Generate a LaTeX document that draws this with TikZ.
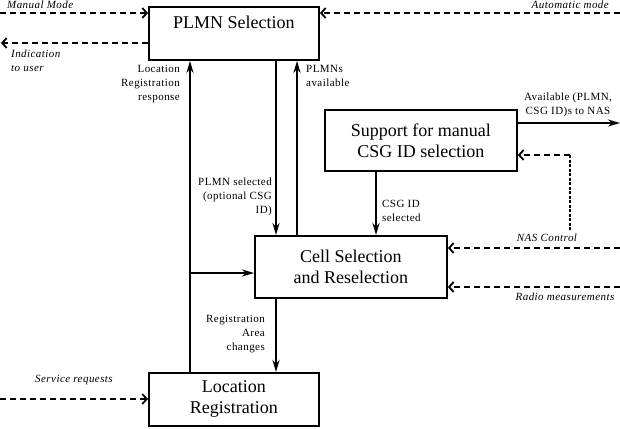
\documentclass[tikz,border=0pt]{standalone}
\usepackage{fontspec}
\setmainfont{Liberation Serif}
\usepackage{tikz}
\usetikzlibrary{arrows.meta}

\begin{document}
\begin{tikzpicture}[x=1pt, y=-1pt,
            box/.style={draw, rectangle, line width=1.9pt, fill=white, inner sep=0pt, align=center, font=\fontsize{18}{21}\selectfont},
            arrow/.style={line width=2.2pt, -{Stealth[length=12pt, width=7pt]}},
            dasharrow/.style={line width=1.8pt, dash pattern=on 6pt off 4pt, -{Straight Barb[length=4.5pt, width=10pt]}},
            dashline/.style={line width=1.3pt, dash pattern=on 3pt off 1.5pt},
            note/.style={font=\fontsize{11}{14}\selectfont\addfontfeatures{LetterSpace=4}, inner sep=0pt},
            inote/.style={font=\itshape\fontsize{11}{14}\selectfont\addfontfeatures{LetterSpace=4}, inner sep=0pt}]
            \useasboundingbox (0,0) rectangle (620,428);

            % Nodes
            \node (plmn) [box, anchor=north west, minimum width=170pt, text height=22pt, text depth=31pt] at (148,6) {PLMN Selection};
            \node (support) [box, anchor=north west, minimum width=192pt, minimum height=61pt] at (324,109) {Support for manual\\CSG ID selection};
            \node (cell) [box, anchor=north west, minimum width=192pt, minimum height=62pt] at (254,235) {Cell Selection\\and Reselection};
            \node (locreg) [box, anchor=north west, minimum width=170pt, minimum height=53pt] at (148,372) {Location\\Registration};

            % Loose ends
            \coordinate (manual) at (0,13);
            \coordinate (auto) at (620,13);
            \coordinate (user) at (1,43);
            \coordinate (tonas) at (620,123);
            \coordinate (nas) at (570,230);
            \coordinate (nasturn) at (570,155);
            \coordinate (nasin) at (620,248);
            \coordinate (radio) at (620,287);
            \coordinate (service) at (0,399);
            \coordinate (branch) at (190,273);

            % Arrows
            \draw [dasharrow] (manual) -- (manual -| plmn.west);
            \draw [dasharrow] (auto) -- (auto -| plmn.east);
            \draw [dasharrow] (user -| plmn.west) -- (user);
            \draw [arrow] (branch |- locreg.north) -- (branch |- plmn.south);
            \draw [arrow] (branch) -- (branch -| cell.west);
            \draw [arrow] ([xshift=128pt]plmn.south west) -- ([xshift=22pt]cell.north west);
            \draw [arrow] ([xshift=43pt]cell.north west) -- ([xshift=149pt]plmn.south west);
            \draw [arrow] ([xshift=52pt]support.south west) -- ([xshift=122pt]cell.north west);
            \draw [arrow] (tonas -| support.east) -- (tonas);
            \draw [dashline] (nas) -- (nasturn);
            \draw [dasharrow] (nasturn) -- (nasturn -| support.east);
            \draw [dasharrow] (nasin) -- (nasin -| cell.east);
            \draw [dasharrow] (radio) -- (radio -| cell.east);
            \draw [arrow] ([xshift=22pt]cell.south west) -- ([xshift=128pt]locreg.north west);
            \draw [dasharrow] (service) -- (service -| locreg.west);

            % Labels
            \node [inote, anchor=base west] at (7,9) {Manual Mode};
            \node [inote, anchor=base east] at (609,9) {Automatic mode};
            \node [inote, anchor=north west, align=left] at (11,50) {Indication\\to user};
            \node [note, anchor=north east, align=right] at (180,65) {Location\\Registration\\response};
            \node [note, anchor=north west, align=left] at (306,65) {PLMNs\\available};
            \node [note, anchor=north east, align=right] at (272,178) {PLMN selected\\(optional CSG\\ID)};
            \node [note, anchor=north west, align=left] at (382,200) {CSG ID\\selected};
            \node [note, anchor=north, align=center] at (568,93) {Available (PLMN,\\CSG ID)s to NAS};
            \node [inote] at (547,238) {NAS Control};
            \node [inote] at (565,297) {Radio measurements};
            \node [note, anchor=north east, align=right] at (265,315) {Registration\\Area\\changes};
            \node [inote] at (74,380) {Service requests};
\end{tikzpicture}
\end{document}
